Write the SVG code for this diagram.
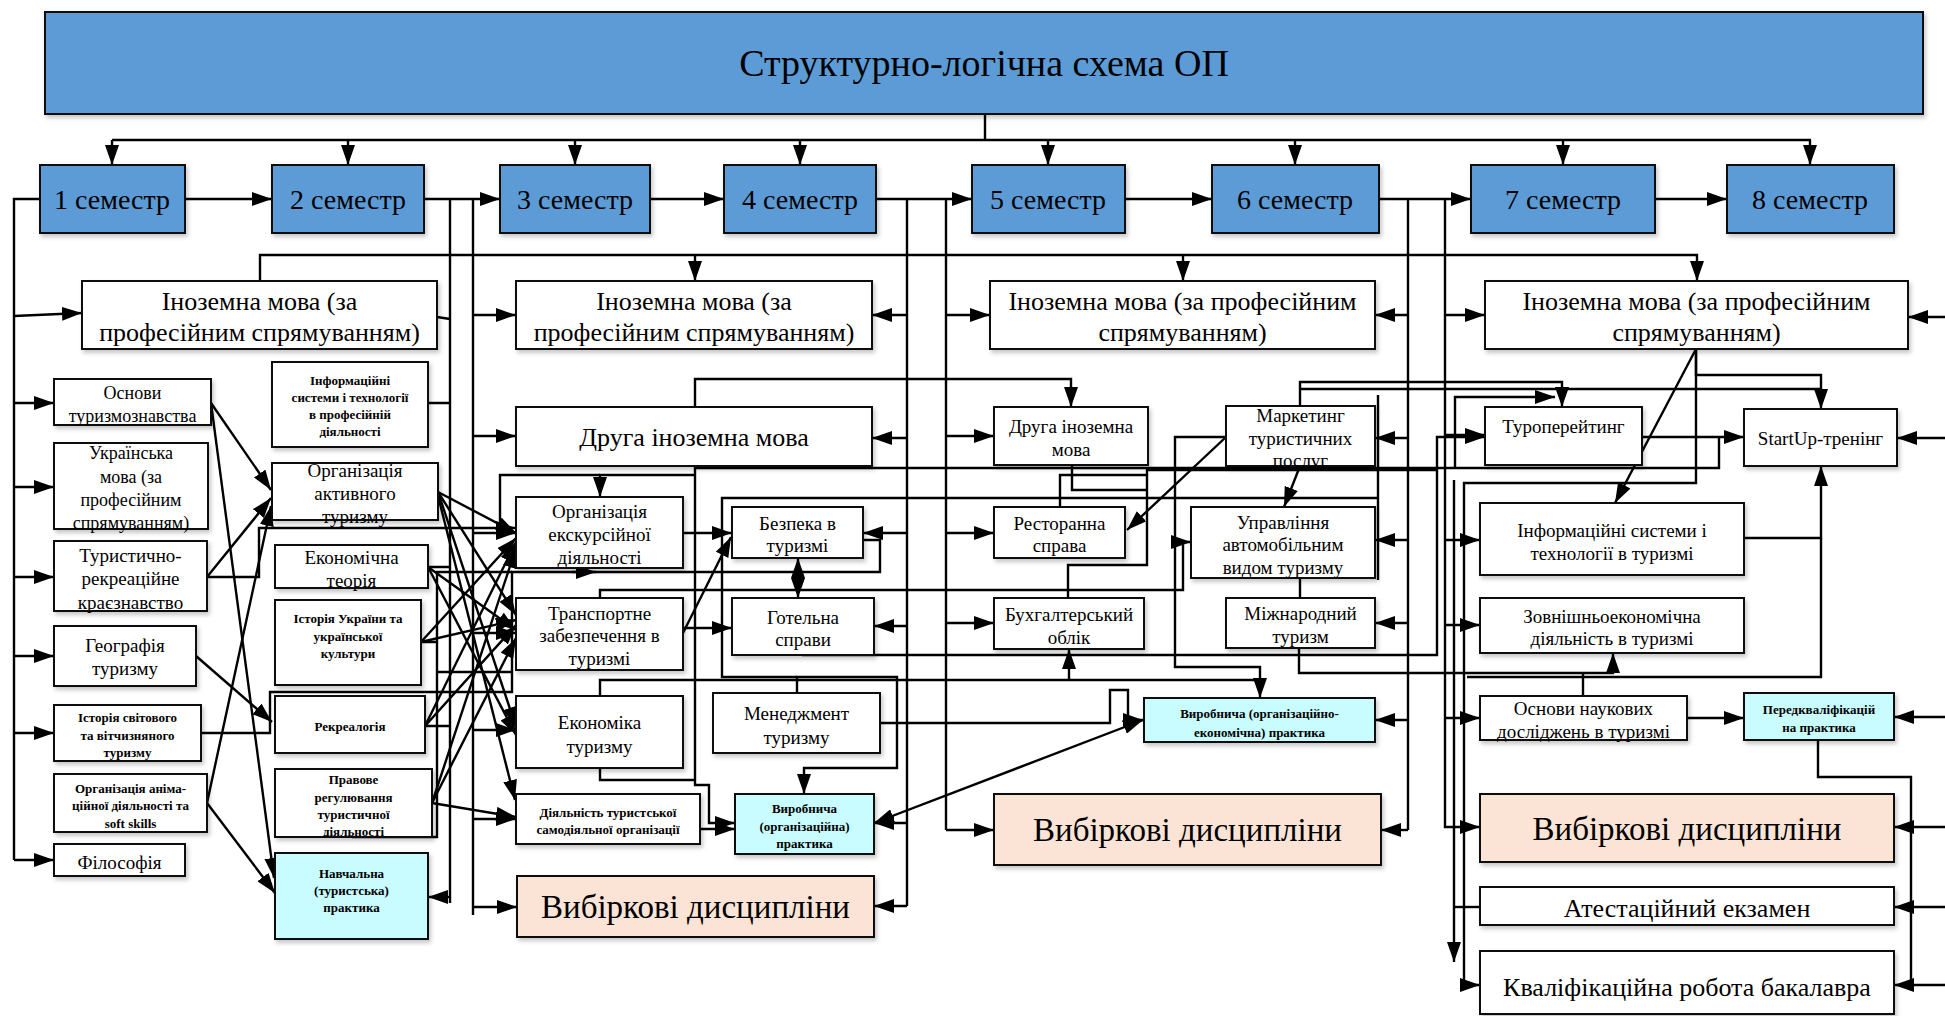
<svg xmlns="http://www.w3.org/2000/svg" width="1945" height="1016" viewBox="0 0 1945 1016">
<defs>
<filter id="sh" x="-5%" y="-5%" width="115%" height="130%"><feDropShadow dx="2" dy="3" stdDeviation="2" flood-color="#000" flood-opacity="0.22"/></filter>
<marker id="a" viewBox="0 0 20 14" refX="20" refY="7" markerWidth="20" markerHeight="14" orient="auto-start-reverse" markerUnits="userSpaceOnUse"><path d="M0,0 L20,7 L0,14 z" fill="#000"/></marker>
</defs>
<style>
rect{stroke:#111;stroke-width:2;fill:#fff;filter:url(#sh)}
.sem{fill:#5B9BD5}
.cy{fill:#C9FCFF}
.pe{fill:#FBE4D5}
text{font-family:"Liberation Serif","Times New Roman",serif;fill:#000;text-anchor:middle}
.t19{font-size:19px}.t18{font-size:18px}.t26{font-size:26px}.t28{font-size:28px}.t33{font-size:33px}
.b13{font-size:13px;font-weight:bold}
#conn path{fill:none;stroke:#000;stroke-width:2.4}
#conn .ar{marker-end:url(#a)}
#conn .da{marker-end:url(#a);marker-start:url(#a)}
</style>
<rect width="1945" height="1016" style="fill:#fff;stroke:none;filter:none"/>
<g id="conn">
<path d="M985,114V140M112,140H1811"/>
<path class="ar" d="M112,140V165"/><path class="ar" d="M348,140V165"/><path class="ar" d="M575,140V165"/><path class="ar" d="M800,140V165"/><path class="ar" d="M1048,140V165"/><path class="ar" d="M1295,140V165"/><path class="ar" d="M1563,140V165"/><path class="ar" d="M1810,140V165"/>
<path class="ar" d="M185,199H272"/><path class="ar" d="M424,199H500"/><path class="ar" d="M650,199H724"/><path class="ar" d="M876,199H972"/><path class="ar" d="M1125,199H1212"/><path class="ar" d="M1379,199H1471"/><path class="ar" d="M1655,199H1727"/>
<path d="M40,199H14V860"/>
<path class="ar" d="M14,316L82,313"/><path class="ar" d="M14,403H54"/><path class="ar" d="M14,487H54"/><path class="ar" d="M14,577H54"/><path class="ar" d="M14,656H54"/><path class="ar" d="M14,733H54"/><path class="ar" d="M14,860H54"/>
<path class="ar" d="M211,403L271,490"/>
<path class="ar" d="M211,403L274,878"/>
<path class="ar" d="M207,577L271,498"/>
<path class="ar" d="M207,803L271,506"/>
<path class="ar" d="M207,803L275,893"/>
<path class="ar" d="M196,656L272,722"/>
<path class="ar" d="M207,577H259V528H516"/>
<path d="M201,733H270V692H512V572H880V540H863"/>
<path class="ar" d="M572,572H596"/>
<path d="M352,837H437V572H512"/>
<path d="M437,672H512"/>
<path d="M450,199V903M437,317L450,319M428,403H450M428,567H450M425,726H450M421,642H437"/>
<path class="ar" d="M450,897H428"/>
<path d="M473,199V915"/>
<path class="ar" d="M473,315H516"/><path class="ar" d="M473,436H516"/><path class="ar" d="M473,533H516"/><path class="ar" d="M473,633H516"/><path class="ar" d="M473,730H516"/><path class="ar" d="M473,819H516"/><path class="ar" d="M473,907H517"/>
<path class="ar" d="M438,492L516,533"/>
<path class="ar" d="M438,492L516,615"/>
<path class="ar" d="M438,492L516,727"/>
<path class="ar" d="M438,496L515,800"/>
<path class="ar" d="M428,567L516,630"/>
<path class="ar" d="M428,567L516,735"/>
<path class="ar" d="M421,642L516,538"/>
<path class="ar" d="M421,642L516,620"/>
<path class="ar" d="M425,726L516,542"/>
<path class="ar" d="M425,726L516,625"/>
<path class="ar" d="M432,803L516,548"/>
<path class="ar" d="M432,803L516,638"/>
<path class="ar" d="M432,803L516,817"/>
<path class="ar" d="M260,281V255H1697V281"/>
<path class="ar" d="M695,255V281"/><path class="ar" d="M1183,255V281"/>
<path class="ar" d="M695,407V379H1071V407"/>
<path class="ar" d="M695,466V785H709V823H735"/>
<path class="ar" d="M695,475H600V497"/>
<path d="M600,475H500V528"/>
<path d="M600,768V780H695"/>
<path class="ar" d="M700,829H735"/>
<path class="ar" d="M683,533H732"/>
<path class="ar" d="M683,633L731,537"/>
<path class="ar" d="M683,628H732"/>
<path class="da" d="M798,558V598"/>
<path class="ar" d="M600,598V590H1183V542H1191"/>
<path d="M600,696V680H1260"/>
<path class="ar" d="M1069,680V649"/>
<path class="ar" d="M802,655H1437V437H1485"/>
<path class="ar" d="M797,693V677H897V768H804V794"/>
<path d="M797,677H722V498H1378M1378,395V580"/>
<path class="ar" d="M880,723H1110V690H1128V720H1143"/>
<path class="da" d="M874,823L1143,720"/>
<path d="M907,199V906"/>
<path class="ar" d="M907,315H872"/><path class="ar" d="M907,438H872"/><path class="ar" d="M907,533H863"/><path class="ar" d="M907,626H874"/><path class="ar" d="M907,823H874"/><path class="ar" d="M907,906H874"/>
<path d="M946,199V830"/>
<path class="ar" d="M946,315H990"/><path class="ar" d="M946,436H994"/><path class="ar" d="M946,533H994"/><path class="ar" d="M946,623H994"/><path class="ar" d="M946,830H994"/>
<path d="M695,468H1719V437"/>
<path d="M1060,507V475H1147M1072,465V490H1147M1068,598V565H1147V470H1437"/>
<path class="ar" d="M1226,437L1127,530"/>
<path class="ar" d="M1300,466L1284,507"/>
<path class="ar" d="M1300,406V382H1562V407"/>
<path d="M1300,389H1821"/>
<path class="ar" d="M1455,468V397H1555"/>
<path class="ar" d="M1226,437H1175V667H1260V698"/>
<path d="M1300,578V598"/>
<path class="ar" d="M1299,648V673H1613V653"/>
<path d="M1583,696V673"/>
<path d="M1408,199V830"/>
<path class="ar" d="M1408,315H1375"/><path class="ar" d="M1408,438H1375"/><path class="ar" d="M1408,540H1375"/><path class="ar" d="M1408,623H1375"/><path class="ar" d="M1408,720H1375"/><path class="ar" d="M1408,830H1381"/>
<path class="ar" d="M1445,199V827H1480"/>
<path class="ar" d="M1445,315H1485"/><path class="ar" d="M1445,435H1485"/><path class="ar" d="M1445,540H1480"/><path class="ar" d="M1445,625H1480"/><path class="ar" d="M1445,718H1480"/>
<path class="ar" d="M1454,480V962"/>
<path d="M1454,907H1480"/>
<path class="ar" d="M1696,349V483H1464V985H1480"/>
<path class="ar" d="M1696,349V375H1821V409"/>
<path class="ar" d="M1696,349L1615,503"/>
<path class="ar" d="M1642,437H1744"/>
<path class="ar" d="M1743,538H1821V466"/>
<path d="M1467,677H1821V538"/>
<path class="ar" d="M1687,718H1744"/>
<path d="M1818,740V777H1911V985"/>
<path class="ar" d="M1945,317H1908"/><path class="ar" d="M1945,438H1897"/><path class="ar" d="M1945,717H1894"/><path class="ar" d="M1945,827H1894"/><path class="ar" d="M1945,907H1894"/><path class="ar" d="M1945,985H1894"/>
</g>
<g id="title"><rect class="sem" x="45" y="12" width="1878" height="102"/><text x="984" y="76" style="font-size:38px">Структурно-логічна схема ОП</text></g>
<g id="s1"><rect class="sem" x="40" y="165" width="145" height="68"/><text class="t28" x="112" y="209">1 семестр</text></g>
<g id="s2"><rect class="sem" x="272" y="165" width="152" height="68"/><text class="t28" x="348" y="209">2 семестр</text></g>
<g id="s3"><rect class="sem" x="500" y="165" width="150" height="68"/><text class="t28" x="575" y="209">3 семестр</text></g>
<g id="s4"><rect class="sem" x="724" y="165" width="152" height="68"/><text class="t28" x="800" y="209">4 семестр</text></g>
<g id="s5"><rect class="sem" x="972" y="165" width="153" height="68"/><text class="t28" x="1048" y="209">5 семестр</text></g>
<g id="s6"><rect class="sem" x="1212" y="165" width="167" height="68"/><text class="t28" x="1295" y="209">6 семестр</text></g>
<g id="s7"><rect class="sem" x="1471" y="165" width="184" height="68"/><text class="t28" x="1563" y="209">7 семестр</text></g>
<g id="s8"><rect class="sem" x="1727" y="165" width="167" height="68"/><text class="t28" x="1810" y="209">8 семестр</text></g>
<g id="im12"><rect x="82" y="281" width="355" height="68"/><text class="t26" x="259.5" y="310">Іноземна мова (за</text><text class="t26" x="259.5" y="341">професійним спрямуванням)</text></g>
<g id="im34"><rect x="516" y="281" width="356" height="68"/><text class="t26" x="694" y="310">Іноземна мова (за</text><text class="t26" x="694" y="341">професійним спрямуванням)</text></g>
<g id="im56"><rect x="990" y="281" width="385" height="68"/><text class="t26" x="1182.5" y="310">Іноземна мова (за професійним</text><text class="t26" x="1182.5" y="341">спрямуванням)</text></g>
<g id="im78"><rect x="1485" y="281" width="423" height="68"/><text class="t26" x="1696.5" y="310">Іноземна мова (за професійним</text><text class="t26" x="1696.5" y="341">спрямуванням)</text></g>
<g id="druga34"><rect x="516" y="407" width="356" height="59"/><text class="t26" x="694" y="446">Друга іноземна мова</text></g>
<g id="druga5"><rect x="994" y="407" width="154" height="58"/><text class="t19" x="1071" y="433">Друга іноземна</text><text class="t19" x="1071" y="456">мова</text></g>
<g id="osnovy"><rect x="54" y="379" width="157" height="46"/><text class="t18" x="132.5" y="399">Основи</text><text class="t18" x="132.5" y="422">туризмознавства</text></g>
<g id="ukr"><rect x="54" y="443" width="154" height="86"/><text class="t18" x="131" y="459">Українська</text><text class="t18" x="131" y="483">мова (за</text><text class="t18" x="131" y="506">професійним</text><text class="t18" x="131" y="529">спрямуванням)</text></g>
<g id="tur"><rect x="54" y="541" width="153" height="70"/><text class="t19" x="130.5" y="562">Туристично-</text><text class="t19" x="130.5" y="585">рекреаційне</text><text class="t19" x="130.5" y="609">краєзнавство</text></g>
<g id="geo"><rect x="54" y="626" width="142" height="60"/><text class="t19" x="125" y="652">Географія</text><text class="t19" x="125" y="675">туризму</text></g>
<g id="istsvit"><rect x="54" y="705" width="147" height="56"/><text class="b13" x="127.5" y="721.5">Історія світового</text><text class="b13" x="127.5" y="739.5">та вітчизняного</text><text class="b13" x="127.5" y="756.5">туризму</text></g>
<g id="anim"><rect x="54" y="774" width="153" height="58"/><text class="b13" x="130.5" y="792.5">Організація аніма-</text><text class="b13" x="130.5" y="809.5">ційної діяльності та</text><text class="b13" x="130.5" y="827.5">soft skills</text></g>
<g id="filos"><rect x="54" y="844" width="131" height="32"/><text class="t19" x="119.5" y="869">Філософія</text></g>
<g id="infsyst"><rect x="272" y="362" width="156" height="85"/><text class="b13" x="350" y="384.5">Інформаційні</text><text class="b13" x="350" y="401.5">системи і технології</text><text class="b13" x="350" y="418.5">в професійній</text><text class="b13" x="350" y="435.5">діяльності</text></g>
<g id="orgakt"><rect x="272" y="463" width="166" height="57"/><text class="t19" x="355" y="477">Організація</text><text class="t19" x="355" y="500">активного</text><text class="t19" x="355" y="523">туризму</text></g>
<g id="ekteor"><rect x="275" y="545" width="153" height="43"/><text class="t19" x="351.5" y="564">Економічна</text><text class="t19" x="351.5" y="587">теорія</text></g>
<g id="istukr"><rect x="275" y="600" width="146" height="85"/><text class="b13" x="348" y="622.5">Історія України та</text><text class="b13" x="348" y="640.5">української</text><text class="b13" x="348" y="657.5">культури</text></g>
<g id="rekr"><rect x="275" y="696" width="150" height="57"/><text class="b13" x="350" y="730.5">Рекреалогія</text></g>
<g id="pravo"><rect x="275" y="769" width="157" height="68"/><text class="b13" x="353.5" y="783.5">Правове</text><text class="b13" x="353.5" y="801.5">регулювання</text><text class="b13" x="353.5" y="818.5">туристичної</text><text class="b13" x="353.5" y="835.5">діяльності</text></g>
<g id="navch"><rect class="cy" x="275" y="853" width="153" height="86"/><text class="b13" x="351.5" y="877.5">Навчальна</text><text class="b13" x="351.5" y="894.5">(туристська)</text><text class="b13" x="351.5" y="911.5">практика</text></g>
<g id="orgeksk"><rect x="516" y="497" width="167" height="71"/><text class="t19" x="599.5" y="518">Організація</text><text class="t19" x="599.5" y="541">екскурсійної</text><text class="t19" x="599.5" y="564">діяльності</text></g>
<g id="transp"><rect x="516" y="598" width="167" height="72"/><text class="t19" x="599.5" y="620">Транспортне</text><text class="t19" x="599.5" y="642">забезпечення в</text><text class="t19" x="599.5" y="665">туризмі</text></g>
<g id="ekontur"><rect x="516" y="696" width="167" height="72"/><text class="t19" x="599.5" y="729">Економіка</text><text class="t19" x="599.5" y="753">туризму</text></g>
<g id="diyal"><rect x="516" y="794" width="184" height="50"/><text class="b13" x="608" y="816.5">Діяльність туристської</text><text class="b13" x="608" y="833.5">самодіяльної організації</text></g>
<g id="vyb34"><rect class="pe" x="517" y="876" width="357" height="61"/><text class="t33" x="695.5" y="918">Вибіркові дисципліни</text></g>
<g id="bezpeka"><rect x="732" y="507" width="131" height="51"/><text class="t19" x="797.5" y="530">Безпека в</text><text class="t19" x="797.5" y="552">туризмі</text></g>
<g id="hotel"><rect x="732" y="598" width="142" height="57"/><text class="t19" x="803" y="624">Готельна</text><text class="t19" x="803" y="646">справи</text></g>
<g id="menedzh"><rect x="713" y="693" width="167" height="60"/><text class="t19" x="796.5" y="720">Менеджмент</text><text class="t19" x="796.5" y="744">туризму</text></g>
<g id="vyrorg"><rect class="cy" x="735" y="794" width="139" height="60"/><text class="b13" x="804.5" y="812.5">Виробнича</text><text class="b13" x="804.5" y="830.5">(організаційна)</text><text class="b13" x="804.5" y="847.5">практика</text></g>
<g id="restor"><rect x="994" y="507" width="131" height="51"/><text class="t19" x="1059.5" y="530">Ресторанна</text><text class="t19" x="1059.5" y="552">справа</text></g>
<g id="buhg"><rect x="994" y="598" width="150" height="51"/><text class="t19" x="1069" y="621">Бухгалтерський</text><text class="t19" x="1069" y="644">облік</text></g>
<g id="vyb56"><rect class="pe" x="994" y="794" width="387" height="71"/><text class="t33" x="1187.5" y="841">Вибіркові дисципліни</text></g>
<g id="market"><rect x="1226" y="406" width="149" height="60"/><text class="t19" x="1300.5" y="422">Маркетинг</text><text class="t19" x="1300.5" y="445">туристичних</text><text class="t19" x="1300.5" y="467">послуг</text></g>
<g id="upravl"><rect x="1191" y="507" width="184" height="71"/><text class="t19" x="1283" y="529">Управління</text><text class="t19" x="1283" y="551">автомобільним</text><text class="t19" x="1283" y="574">видом туризму</text></g>
<g id="mizhnar"><rect x="1226" y="598" width="149" height="50"/><text class="t19" x="1300.5" y="620">Міжнародний</text><text class="t19" x="1300.5" y="643">туризм</text></g>
<g id="vyroe"><rect class="cy" x="1144" y="698" width="231" height="44"/><text class="b13" x="1259.5" y="717.5">Виробнича (організаційно-</text><text class="b13" x="1259.5" y="736.5">економічна) практика</text></g>
<g id="turop"><rect x="1485" y="407" width="157" height="58"/><text class="t19" x="1563.5" y="433">Туроперейтинг</text></g>
<g id="startup"><rect x="1744" y="409" width="153" height="57"/><text class="t19" x="1820.5" y="445">StartUp-тренінг</text></g>
<g id="is"><rect x="1480" y="503" width="264" height="72"/><text class="t19" x="1612" y="537">Інформаційні системи і</text><text class="t19" x="1612" y="560">технології в туризмі</text></g>
<g id="zovn"><rect x="1480" y="598" width="264" height="55"/><text class="t19" x="1612" y="623">Зовнішньоекономічна</text><text class="t19" x="1612" y="645">діяльність в туризмі</text></g>
<g id="osnnauk"><rect x="1480" y="696" width="207" height="44"/><text class="t19" x="1583.5" y="715">Основи наукових</text><text class="t19" x="1583.5" y="738">досліджень в туризмі</text></g>
<g id="peredkv"><rect class="cy" x="1744" y="693" width="150" height="47"/><text class="b13" x="1819" y="713.5">Передкваліфікацій</text><text class="b13" x="1819" y="731.5">на практика</text></g>
<g id="vyb78"><rect class="pe" x="1480" y="794" width="414" height="68"/><text class="t33" x="1687" y="839.5">Вибіркові дисципліни</text></g>
<g id="atest"><rect x="1480" y="887" width="414" height="38"/><text class="t26" x="1687" y="917">Атестаційний екзамен</text></g>
<g id="kval"><rect x="1480" y="951" width="414" height="63"/><text class="t26" x="1687" y="996">Кваліфікаційна робота бакалавра</text></g>
</svg>
